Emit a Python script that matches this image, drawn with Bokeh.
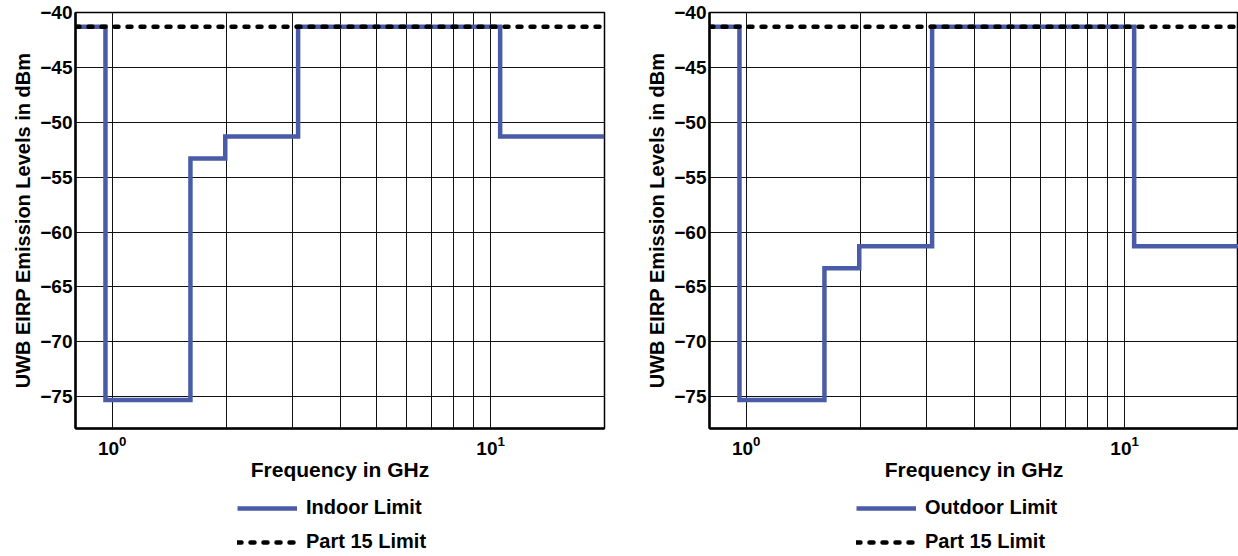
from bokeh.plotting import figure
from bokeh.models import FixedTicker, Legend, LegendItem, Range1d
from bokeh.layouts import row, column
from bokeh.embed import file_html
from bokeh.resources import INLINE

# ---- data ----
freq_ghz = [0.8, 0.96, 1.61, 1.99, 3.1, 10.6, 20.0]
indoor_dbm = [-41.3, -75.3, -53.3, -51.3, -41.3, -51.3, -51.3]
outdoor_dbm = [-41.3, -75.3, -63.3, -61.3, -41.3, -61.3, -61.3]
part15_freq = [0.8, 20.0]
part15_dbm = [-41.3, -41.3]
y_ticks = [-75, -70, -65, -60, -55, -50, -45, -40]
x_major_ticks = [1, 10]
x_grid_ticks = [1, 2, 3, 4, 5, 6, 7, 8, 9, 10]

FONT = "Liberation Sans"
BLUE = "#4a5ca8"
MAIN_H = 490
LEG_H = 66


def style_step(p, levels):
    r1 = p.step(freq_ghz, levels, mode="after", line_color=BLUE, line_width=4.5,
                line_join="miter")
    r2 = p.line(part15_freq, part15_dbm, line_color="black", line_width=4.5,
                line_dash="4 9", line_cap="round")
    return r1, r2


def make(levels, width, border_right):
    p = figure(x_axis_type="log", x_range=Range1d(0.8, 20), y_range=Range1d(-77.9, -40),
               width=width, height=MAIN_H,
               min_border_left=75, min_border_right=border_right, min_border_top=12,
               min_border_bottom=62,
               output_backend="svg", toolbar_location=None,
               background_fill_color="white", border_fill_color="white")
    p.outline_line_color = "black"
    p.outline_line_width = 1.5

    style_step(p, levels)

    p.xaxis.ticker = FixedTicker(ticks=x_major_ticks, minor_ticks=[])
    p.yaxis.ticker = FixedTicker(ticks=y_ticks, minor_ticks=[])
    p.xgrid.ticker = FixedTicker(ticks=x_grid_ticks)
    p.ygrid.ticker = FixedTicker(ticks=y_ticks)
    for g in (p.xgrid, p.ygrid):
        g.grid_line_color = "#111111"
        g.grid_line_width = 1
        g.grid_line_alpha = 1.0

    for ax in (p.xaxis, p.yaxis):
        ax.axis_line_color = "black"
        ax.axis_line_width = 2.5
        ax.major_tick_in = 0
        ax.major_tick_out = 0
        ax.minor_tick_in = 0
        ax.minor_tick_out = 0
        ax.major_label_text_font = FONT
        ax.major_label_text_font_style = "bold"
        ax.major_label_text_font_size = "19px"
        ax.major_label_text_color = "black"
        ax.axis_label_text_font = FONT
        ax.axis_label_text_font_style = "bold"
        ax.axis_label_text_font_size = "20px"
        ax.axis_label_text_color = "black"
    p.xaxis.axis_label_text_font_size = "21px"
    p.yaxis.axis_label = "UWB EIRP Emission Levels in dBm"
    p.xaxis.axis_label = "Frequency in GHz"
    p.yaxis.major_label_standoff = 3
    p.yaxis.axis_label_standoff = 3
    p.xaxis.major_label_standoff = 7
    p.xaxis.axis_label_standoff = 0
    return p


def make_legend(levels, name, width, x0):
    # small companion figure that only shows the legend (its lines sit outside the view)
    q = figure(x_range=Range1d(100, 101), y_range=Range1d(100, 101),
               width=width, height=LEG_H, min_border=0,
               x_axis_location=None, y_axis_location=None,
               output_backend="svg", toolbar_location=None,
               background_fill_color="white", border_fill_color="white")
    q.outline_line_color = None
    q.xgrid.visible = False
    q.ygrid.visible = False
    r1, r2 = style_step(q, levels)
    legend = Legend(items=[LegendItem(label=name, renderers=[r1]),
                           LegendItem(label="Part 15 Limit", renderers=[r2])],
                    location=(x0, 3), orientation="vertical")
    legend.border_line_color = None
    legend.background_fill_alpha = 0
    legend.label_text_font = FONT
    legend.label_text_font_style = "bold"
    legend.label_text_font_size = "20px"
    legend.label_text_color = "black"
    legend.glyph_width = 60
    legend.glyph_height = 20
    legend.label_height = 20
    legend.label_standoff = 9
    legend.spacing = 11
    legend.padding = 0
    legend.margin = 0
    q.add_layout(legend, "center")
    return q


p1 = make(indoor_dbm, 634, 30)
p2 = make(outdoor_dbm, 604, 0)
l1 = make_legend(indoor_dbm, "Indoor Limit", 634, 237)
l2 = make_legend(outdoor_dbm, "Outdoor Limit", 604, 222)
p = column(row(p1, p2), row(l1, l2))

open("out.html", "w").write(file_html(p, INLINE))
